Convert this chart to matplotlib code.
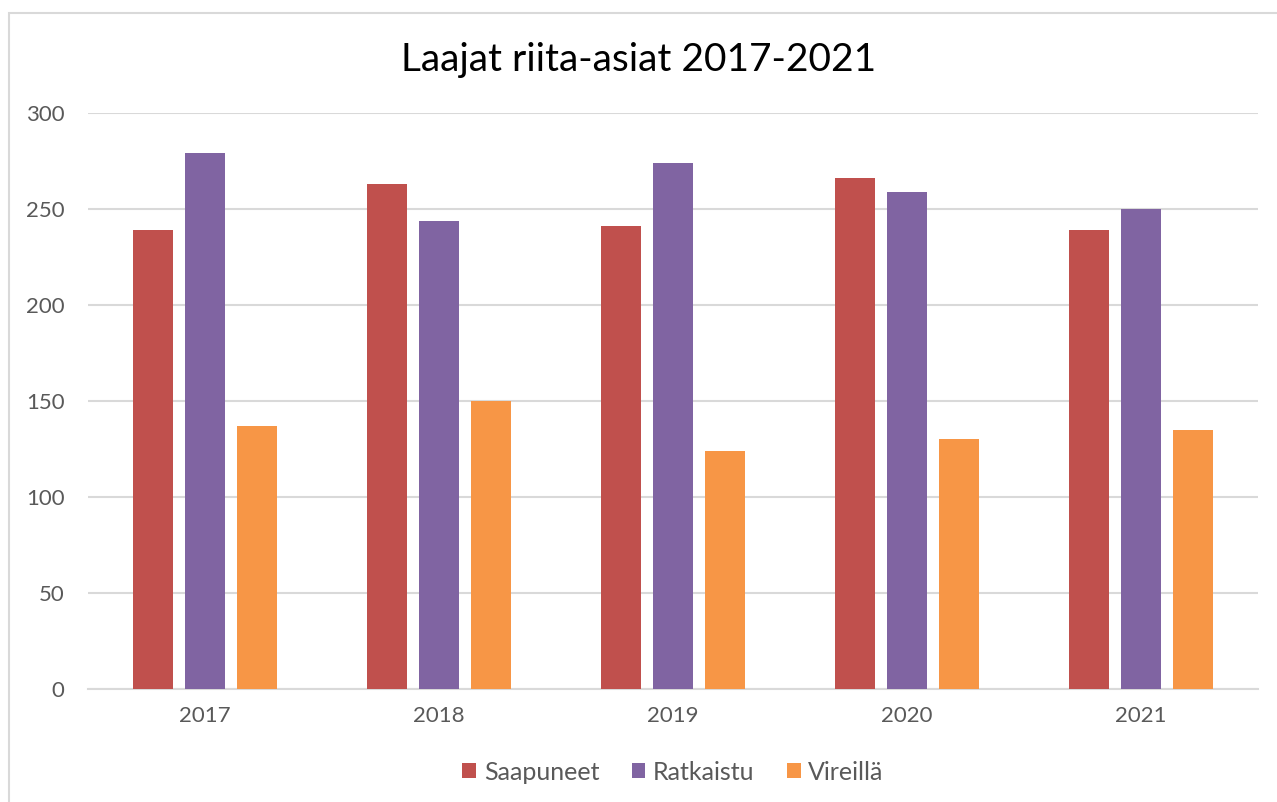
import matplotlib
matplotlib.use("Agg")
import matplotlib.pyplot as plt
from matplotlib.patches import Rectangle
import numpy as np

years = ["2017", "2018", "2019", "2020", "2021"]
saapuneet = [239, 263, 241, 266, 239]
ratkaistu = [279, 244, 274, 259, 250]
vireilla = [137, 150, 124, 130, 135]
series_names = ["Saapuneet", "Ratkaistu", "Vireillä"]
colors = ["#C0504D", "#8064A2", "#F79646"]
yticks = [0, 50, 100, 150, 200, 250, 300]

plt.rcParams['font.family'] = ['Lato', 'DejaVu Sans']

fig = plt.figure(figsize=(12.77, 8.02), dpi=100)
fig.patches.append(Rectangle((9/1277, -0.05), 1.2, 1 - 13/802 + 0.05,
                             transform=fig.transFigure, facecolor='none',
                             edgecolor='#D9D9D9', linewidth=1.5, zorder=-1))
ax = fig.add_axes([88/1277, 113/802, (1258-88)/1277, (689-113)/802])
ax.set_facecolor('none')

x = np.arange(len(years))
w = 40/234
off = 52/234
for i, (vals, c, n) in enumerate(zip([saapuneet, ratkaistu, vireilla], colors, series_names)):
    ax.bar(x + (i-1)*off, vals, width=w, color=c, label=n, zorder=3)

ax.set_xlim(-0.5, len(years)-0.5)
ax.set_ylim(0, 300)
ax.set_yticks(yticks)
ax.set_yticklabels([str(t) for t in yticks], fontsize=16, color='#595959')
ax.set_xticks(x)
ax.set_xticklabels(years, fontsize=16, color='#595959')
ax.grid(axis='y', color='#D9D9D9', linewidth=1.5, zorder=0)
for s in ['top', 'right', 'left']:
    ax.spines[s].set_visible(False)
ax.spines['bottom'].set_color('#D9D9D9')
ax.spines['bottom'].set_linewidth(1.5)
ax.tick_params(axis='both', length=0)
ax.tick_params(axis='x', pad=12)
ax.tick_params(axis='y', pad=17)

fig.text(0.5, 1 - 60/802, "Laajat riita-asiat 2017-2021", ha='center', va='center',
         fontsize=28, color='#000000')

ax.legend(loc='center', bbox_to_anchor=(0.5, (689-772)/576), ncol=3, frameon=False,
          fontsize=18, handlelength=0.55, handleheight=0.55, handletextpad=0.3,
          columnspacing=1.3, labelcolor='#595959')

fig.savefig("out.png", dpi=100)
